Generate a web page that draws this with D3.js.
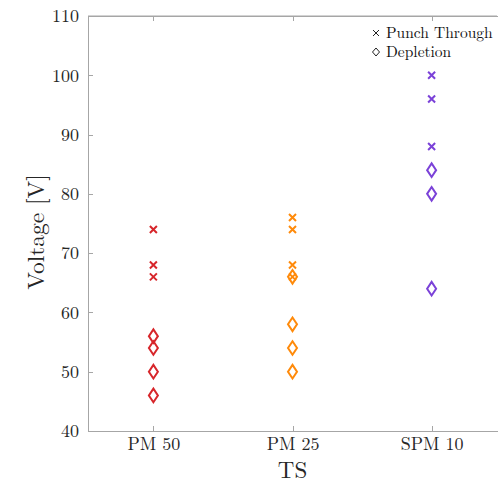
<!DOCTYPE html>
<html>
<head>
<meta charset="utf-8">
<script src="https://cdn.jsdelivr.net/npm/d3@7"></script>
<style>
  body { margin: 0; background: #fff; }
  svg { display: block; }
  text { font-family: "Latin Modern Roman", "CMU Serif", "Liberation Serif", serif; }
</style>
</head>
<body>
<svg id="chart" width="498" height="485"></svg>
<script>
// Test structures along the x axis
const categories = ["PM 50", "PM 25", "SPM 10"];
const colors = ["#d7262b", "#ff8a0a", "#7b42d8"];

// Voltages [V] for each structure
const punchThrough = [
  [74, 68, 66],
  [76, 74, 68, 66],
  [100, 96, 88]
];
const depletion = [
  [56, 54, 50, 46],
  [66, 58, 54, 50],
  [84, 80, 64]
];

const yTicks = [40, 50, 60, 70, 80, 90, 100, 110];

const W = 498, H = 485;
const margin = { left: 88, right: 1, top: 16, bottom: 54 };
const svg = d3.select("#chart");

const x = d3.scalePoint()
  .domain(categories)
  .range([margin.left, W - margin.right])
  .padding(0.47);
const y = d3.scaleLinear()
  .domain([40, 110])
  .range([H - margin.bottom, margin.top]);

const axisColor = "#a6a6a6";
const textColor = "#262626";
const tickLen = 5;

// Box
svg.append("line")
  .attr("x1", margin.left).attr("x2", W - margin.right)
  .attr("y1", y(110)).attr("y2", y(110))
  .attr("stroke", axisColor);

const yAxis = svg.append("g")
  .attr("transform", `translate(${margin.left},0)`)
  .call(d3.axisLeft(y).tickValues(yTicks).tickSizeInner(-tickLen).tickSizeOuter(0).tickPadding(9));
const xAxis = svg.append("g")
  .attr("transform", `translate(0,${H - margin.bottom})`)
  .call(d3.axisBottom(x).tickSizeInner(-tickLen).tickSizeOuter(0).tickPadding(6));
const xTop = svg.append("g")
  .attr("transform", `translate(0,${margin.top})`)
  .call(d3.axisTop(x).tickSizeInner(-tickLen).tickSizeOuter(0).tickFormat(""));

[yAxis, xAxis, xTop].forEach(g => {
  g.selectAll("path, line").attr("stroke", axisColor).attr("shape-rendering", "crispEdges");
  g.selectAll("text").attr("fill", textColor).attr("font-size", 18);
});

// Axis titles
svg.append("text")
  .attr("transform", `translate(44,232) rotate(-90)`)
  .attr("text-anchor", "middle")
  .attr("font-size", 23.5)
  .attr("fill", textColor)
  .text("Voltage [V]");
svg.append("text")
  .attr("x", x("PM 25"))
  .attr("y", 478)
  .attr("text-anchor", "middle")
  .attr("font-size", 23)
  .attr("fill", textColor)
  .text("TS");

// Marker shapes
const crossPath = s => `M${-s},${-s}L${s},${s}M${-s},${s}L${s},${-s}`;
const diamondPath = (w, h) => `M0,${-h}L${w},0L0,${h}L${-w},0Z`;

categories.forEach((c, i) => {
  const g = svg.append("g");
  g.selectAll("path.pt")
    .data(punchThrough[i])
    .join("path")
    .attr("class", "pt")
    .attr("transform", d => `translate(${x(c)},${y(d)})`)
    .attr("d", crossPath(3.5))
    .attr("fill", "none")
    .attr("stroke", colors[i])
    .attr("stroke-width", 2);
  g.selectAll("path.dp")
    .data(depletion[i])
    .join("path")
    .attr("class", "dp")
    .attr("transform", d => `translate(${x(c)},${y(d)})`)
    .attr("d", diamondPath(4.5, 6.8))
    .attr("fill", "none")
    .attr("stroke", colors[i])
    .attr("stroke-width", 2);
});

// Legend
const legend = svg.append("g").attr("transform", "translate(372,0)");
legend.append("path")
  .attr("transform", "translate(4,33)")
  .attr("d", crossPath(3))
  .attr("stroke", "#222").attr("stroke-width", 1).attr("fill", "none");
legend.append("text")
  .attr("x", 14).attr("y", 38)
  .attr("font-size", 15.5).attr("fill", "#111")
  .text("Punch Through");
legend.append("path")
  .attr("transform", "translate(4,52)")
  .attr("d", diamondPath(3.5, 4))
  .attr("stroke", "#222").attr("stroke-width", 1).attr("fill", "none");
legend.append("text")
  .attr("x", 14).attr("y", 57)
  .attr("font-size", 15.5).attr("fill", "#111")
  .text("Depletion");
</script>
</body>
</html>
